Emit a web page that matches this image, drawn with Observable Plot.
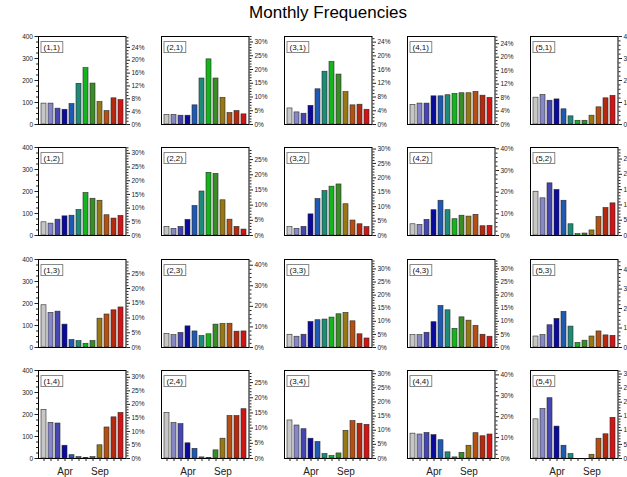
<!DOCTYPE html>
<html><head><meta charset="utf-8">
<script src="https://cdn.jsdelivr.net/npm/d3@7"></script>
<script src="https://cdn.jsdelivr.net/npm/@observablehq/plot@0.6"></script>
<style>
body{margin:0;background:#fff;font-family:"Liberation Sans",Arial,Helvetica,sans-serif;}
#chart{position:relative;width:627px;height:477px;overflow:hidden;background:#fff;}
#title{position:absolute;left:0;width:656px;top:3px;line-height:20px;text-align:center;font-size:17px;color:#000;}
.panel{position:absolute;}
</style></head><body>
<div id="chart"><div id="title">Monthly Frequencies</div></div>
<script>
const months = ["Jan","Feb","Mar","Apr","May","Jun","Jul","Aug","Sep","Oct","Nov","Dec"];
const barColors = ["#c6c6c6","#8787c6","#4646b2","#0a0a9c","#1e5ab4","#1e8a78","#14b41e","#3a8c26","#977814","#b45014","#b42a10","#d21414"];
const monthLabels = ["Apr","Sep"];
const countTicks = [0,100,200,300,400];

// counts per panel, one array per column (i) for each row (j)
const row1 = [
  [95, 95, 72, 67, 93, 185, 256, 186, 102, 61, 119, 111],
  [43, 43, 40, 40, 87, 209, 296, 209, 121, 52, 61, 46],
  [73, 55, 49, 85, 160, 240, 284, 227, 147, 87, 90, 67],
  [89, 95, 95, 128, 128, 133, 139, 142, 142, 148, 131, 121],
  [122, 134, 108, 114, 69, 37, 17, 17, 40, 78, 119, 130]
];
const row2 = [
  [60, 54, 72, 87, 90, 116, 193, 167, 158, 92, 77, 89],
  [39, 30, 39, 71, 134, 200, 285, 280, 160, 72, 39, 27],
  [38, 30, 39, 96, 166, 202, 222, 232, 142, 68, 51, 38],
  [51, 48, 71, 115, 158, 115, 74, 90, 86, 94, 42, 44],
  [199, 169, 237, 207, 158, 51, 6, 9, 23, 84, 125, 146]
];
const row3 = [
  [192, 157, 163, 104, 34, 29, 17, 29, 131, 150, 169, 182],
  [61, 56, 66, 96, 73, 52, 60, 104, 107, 108, 72, 73],
  [58, 49, 58, 116, 124, 127, 136, 151, 157, 119, 60, 41],
  [56, 56, 67, 115, 189, 169, 85, 137, 122, 98, 58, 49],
  [50, 56, 101, 130, 162, 95, 21, 31, 50, 73, 55, 53]
];
const row4 = [
  [221, 162, 159, 58, 15, 6, 3, 6, 60, 141, 187, 207],
  [207, 161, 156, 69, 44, 5, 2, 37, 90, 193, 193, 224],
  [173, 150, 133, 90, 75, 20, 11, 23, 126, 170, 158, 153],
  [113, 109, 116, 106, 83, 28, 5, 26, 58, 115, 101, 109],
  [178, 225, 274, 145, 58, 20, 0, 0, 17, 90, 110, 185]
];
const totalsRow1 = [1460, 1250, 1560, 1530, 1000];
const totalsRow2 = [1245, 1380, 1310, 985, 1390];
const totalsRow3 = [1340, 935, 1190, 1190, 885];
const totalsRow4 = [1230, 1380, 1285, 950, 1280];
const pctStepsRow1 = [4, 5, 4, 4, 10];
const pctStepsRow2 = [5, 5, 5, 10, 5];
const pctStepsRow3 = [5, 10, 5, 5, 10];
const pctStepsRow4 = [5, 5, 5, 10, 5];

const rows = [row1, row2, row3, row4];
const totals = [totalsRow1, totalsRow2, totalsRow3, totalsRow4];
const pctSteps = [pctStepsRow1, pctStepsRow2, pctStepsRow3, pctStepsRow4];

// layout
const colX = [37.5, 160.5, 283.5, 407, 530];
const rowY = [36, 147, 259, 370];
const PW = 87.5, PH = 88;
const ML = 30, MR = 34, MT = 4, MB = 24;
const chart = document.getElementById("chart");

function isMajor(p, step) { return Math.abs(p / step - Math.round(p / step)) < 1e-6; }

rows.forEach((row, r) => {
  row.forEach((vals, c) => {
    const data = months.map((m, i) => ({month: m, count: vals[i]}));
    const total = totals[r][c], step = pctSteps[r][c];
    const maxPct = 400 / total * 100;
    const majorPct = d3.range(0, maxPct + 1e-9, step);
    const minorStep = step === 10 ? 2 : 1;
    const minorPct = d3.range(0, maxPct + 1e-9, minorStep).filter(p => !isMajor(p, step));
    const isBottom = r === rows.length - 1;
    const marks = [
      Plot.barY(data, {x: "month", y: "count", fill: "month", stroke: "#2a2a2a", strokeWidth: 0.6}),
      Plot.frame({stroke: "#000", strokeWidth: 1}),
      Plot.axisY(majorPct.map(p => p * total / 100), {anchor: "right", tickSize: 3.5, tickPadding: 2, fontSize: 6.5, label: null,
        tickFormat: v => Math.round(v / total * 100) + "%"}),
      Plot.axisY(minorPct.map(p => p * total / 100), {anchor: "right", tickSize: 2, label: null, tickFormat: () => ""}),
      Plot.text([`(${c + 1},${r + 1})`], {frameAnchor: "top-left", dx: 5, dy: 10.5, lineAnchor: "middle", textAnchor: "start", fontSize: 8, fill: "#111"})
    ];
    if (c === 0) {
      marks.push(Plot.axisY(countTicks, {anchor: "left", tickSize: 3.5, tickPadding: 2, fontSize: 6.5, label: null}));
      marks.push(Plot.axisY(d3.range(0, 401, 25).filter(v => v % 100 !== 0), {anchor: "left", tickSize: 2, label: null, tickFormat: () => ""}));
    }
    if (isBottom) {
      marks.push(Plot.axisX({anchor: "bottom", tickSize: 3, tickPadding: 6.5, fontSize: 10, label: null,
        tickFormat: d => monthLabels.includes(d) ? d : ""}));
    }
    const svg = Plot.plot({
      width: ML + PW + MR, height: MT + PH + MB,
      marginLeft: ML, marginRight: MR, marginTop: MT, marginBottom: MB,
      x: {type: "band", domain: months, padding: 0.25, ...(isBottom ? {} : {axis: null}), label: null},
      y: {domain: [0, 400], label: null},
      color: {domain: months, range: barColors},
      style: {background: "none", overflow: "visible", fontFamily: "Liberation Sans, Arial, Helvetica, sans-serif", color: "#222"},
      marks
    });
    svg.classList.add("panel");
    svg.style.left = (colX[c] - ML) + "px";
    svg.style.top = (rowY[r] - MT) + "px";
    svg.style.maxWidth = "none";
    chart.appendChild(svg);
    // box around the panel label
    const t = svg.querySelector('g[aria-label="text"] text');
    if (t) {
      const b = t.getBBox();
      const rect = document.createElementNS("http://www.w3.org/2000/svg", "rect");
      rect.setAttribute("x", b.x - 2.5);
      rect.setAttribute("y", b.y - 1);
      rect.setAttribute("width", b.width + 5);
      rect.setAttribute("height", b.height + 2);
      rect.setAttribute("fill", "#fff");
      rect.setAttribute("stroke", "#7a7a7a");
      rect.setAttribute("stroke-width", "0.9");
      if (t.getAttribute("transform")) rect.setAttribute("transform", t.getAttribute("transform"));
      t.parentNode.insertBefore(rect, t);
    }
  });
});
</script>
</body></html>
